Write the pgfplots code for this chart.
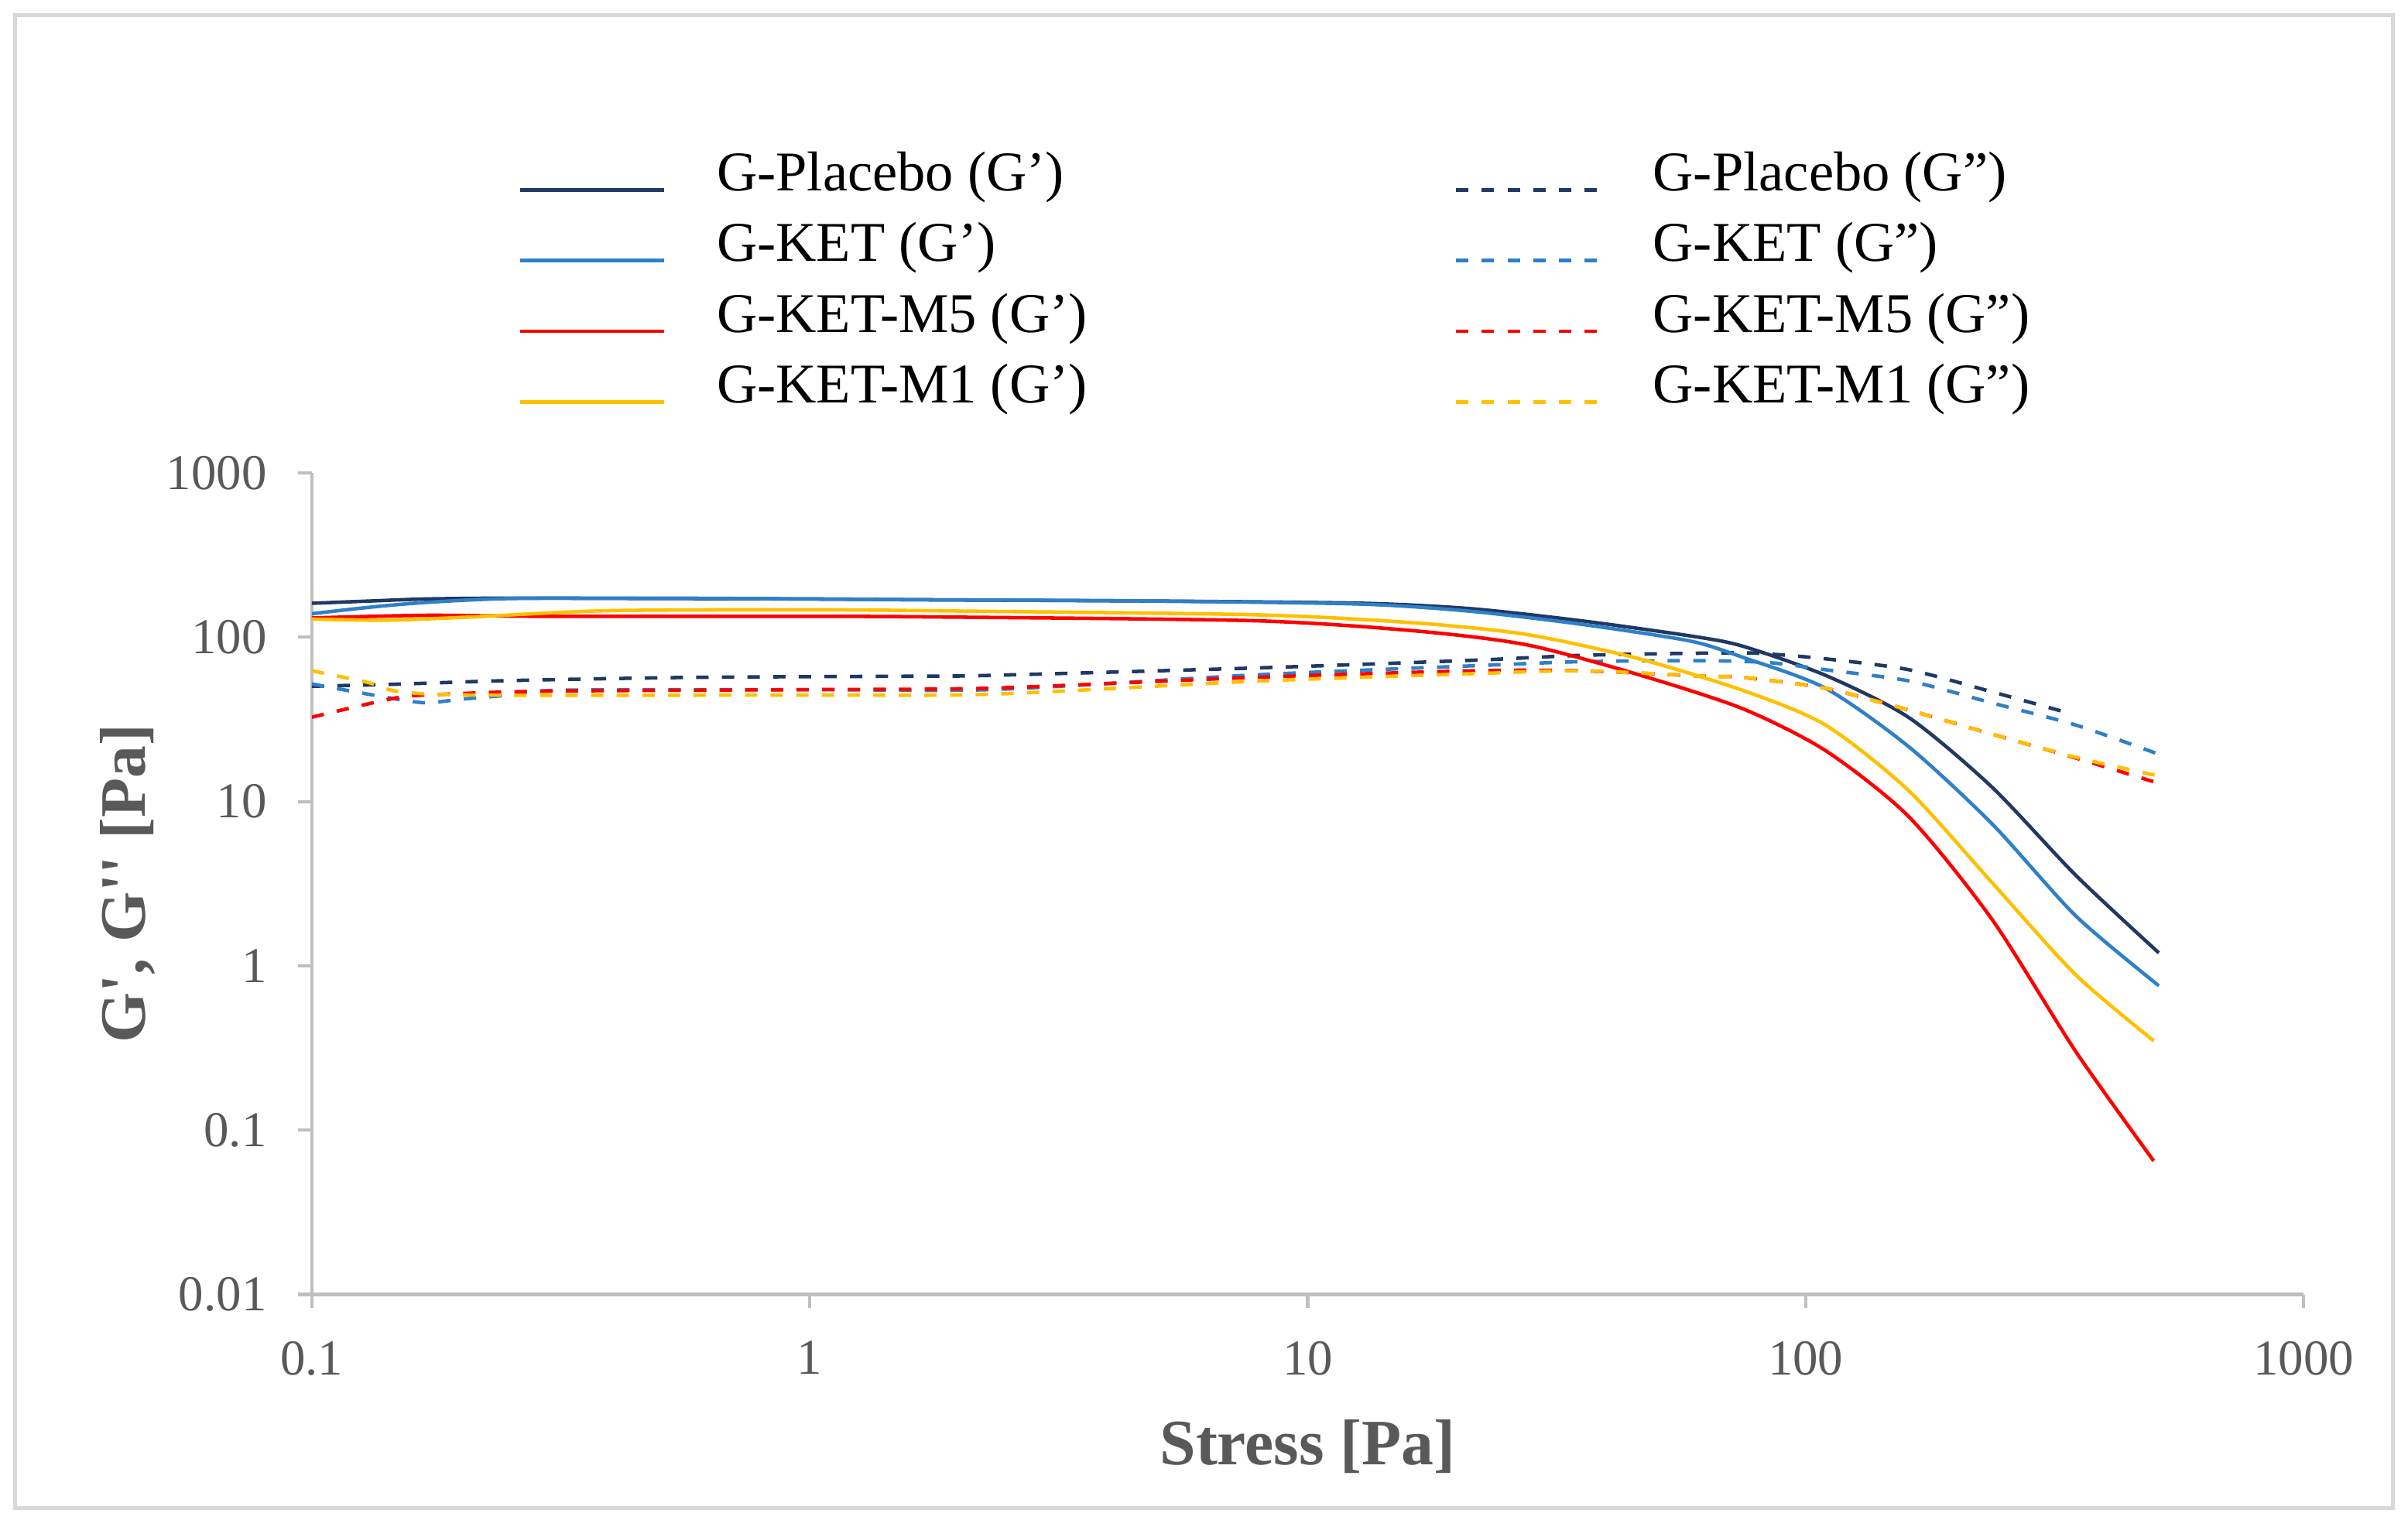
\documentclass[border=0pt]{standalone}
\usepackage{fontspec}
\setmainfont{Liberation Serif}
\usepackage{pgfplots}
\pgfplotsset{compat=1.18}
\definecolor{cnavy}{HTML}{203864}
\definecolor{cblue}{HTML}{2E80C8}
\definecolor{cred}{HTML}{FF0000}
\definecolor{cyel}{HTML}{FFC000}
\definecolor{tgray}{HTML}{595959}
\definecolor{agray}{HTML}{BFBFBF}
\definecolor{fgray}{HTML}{D9D9D9}

\begin{document}
\begin{tikzpicture}
\begin{loglogaxis}[
  at={(0,0)}, anchor=south west,
  scale only axis, width=12.97cm, height=5.35cm,
  xmin=0.1, xmax=1000, ymin=0.01, ymax=1000,
  axis x line*=bottom, axis y line*=left,
  axis line style={agray, line width=0.6pt},
  tick align=outside, major tick length=0.09cm,
  tick style={agray, line width=0.6pt},
  xminorticks=false, yminorticks=false,
  xtick={0.1,1,10,100,1000}, xticklabels={0.1,1,10,100,1000},
  ytick={0.01,0.1,1,10,100,1000}, yticklabels={0.01,0.1,1,10,100,1000},
  ticklabel style={font=\fontsize{9.3}{10}\selectfont, text=tgray},
  xticklabel style={yshift=-0.09cm},
  yticklabel style={xshift=-0.08cm},
  xlabel={Stress [Pa]},
  ylabel={G\textquotesingle, G\textquotesingle\textquotesingle{} [Pa]},
  label style={font=\bfseries\fontsize{12}{14}\selectfont, text=tgray},
  xlabel style={at={(axis description cs:0.5,-0.185)}, anchor=center},
  ylabel style={at={(axis description cs:-0.0925,0.5)}, anchor=center},
  legend image code/.code={\draw[#1] (0cm,-0.08cm) -- (0.94cm,-0.08cm);},
  legend style={draw=none, fill=none, at={(axis description cs:0.095,1.417)},
    anchor=north west, legend columns=2, row sep=0pt,
    font=\fontsize{10.4}{12}\selectfont,
    nodes={inner ysep=0pt, text height=9pt, text depth=4.1pt},
    /tikz/every odd column/.append style={column sep=0.26cm},
    /tikz/every even column/.append style={column sep=2.32cm}},
  legend cell align=left,
  every axis plot/.append style={line width=0.65pt, smooth, tension=0.45},
  gdash/.style={dash pattern=on 2.3pt off 2.45pt},
]
% G-Placebo (G')
\addplot[cnavy] coordinates {
(0.1,161) (0.13,166) (0.17,171) (0.25,173) (0.5,172) (1,171) (1.74,169) (5,166)
(12.9,161) (21.4,149) (35.4,126) (58.5,102) (74.5,88.5) (109.7,58.6) (161.3,32.4)
(237,12.2) (349,3.55) (512,1.2)};
\addlegendentry{G-Placebo (G’)}
% G-Placebo (G'')
\addplot[cnavy, gdash] coordinates {
(0.1,50.3) (0.148,51.8) (0.25,54.5) (0.587,57) (1.74,58) (2.31,58.6) (7.84,65)
(21.4,72.4) (35.4,77.6) (62,80) (79.4,80) (109.7,73.9) (161.3,63.4) (237,46.5) (327,35.5)};
\addlegendentry{G-Placebo (G”)}
% G-KET (G')
\addplot[cblue] coordinates {
(0.1,139) (0.13,152) (0.17,163) (0.25,172) (0.5,173) (1,171) (1.74,169) (5,166)
(12.9,159) (21.4,143.6) (35.4,120) (58.5,95) (74.5,75.8) (109.7,48.9) (161.3,21.5)
(237,7.3) (349,2.01) (512,0.757)};
\addlegendentry{G-KET (G’)}
% G-KET (G'')
\addplot[cblue, gdash] coordinates {
(0.1,52) (0.13,45) (0.167,40) (0.2,42) (0.25,44.5) (0.316,47.6) (1,48) (2.31,48)
(7.84,59) (21.4,67) (35.4,71) (62,72) (84.8,70) (109.7,63.4) (161.3,54.2) (237,39.8)
(349,29.2) (512,19.4)};
\addlegendentry{G-KET (G”)}
% G-KET-M5 (G')
\addplot[cred] coordinates {
(0.1,131) (0.17,136) (0.3,134) (1,134) (1.74,133) (7.84,126) (16.6,109) (27.5,90)
(45.5,60) (74.5,36.9) (109.7,20.4) (161.3,8.07) (237,1.91) (349,0.30) (500,0.065)};
\addlegendentry{G-KET-M5 (G’)}
% G-KET-M5 (G'')
\addplot[cred, gdash] coordinates {
(0.1,32.6) (0.148,42.8) (0.185,45) (0.3,47) (1,48) (2.31,49) (7.84,57) (21.4,62.5)
(35.4,62.5) (62,58) (74.5,57) (109.7,48.9) (161.3,36) (237,25.7) (349,18.4) (500,13.2)};
\addlegendentry{G-KET-M5 (G”)}
% G-KET-M1 (G')
\addplot[cyel] coordinates {
(0.1,129) (0.14,127) (0.2,132) (0.39,145) (1,147) (1.74,145) (7.84,137) (16.6,122)
(27.5,104) (45.5,75) (74.5,47.7) (109.7,29.2) (161.3,11.6) (237,3.2) (349,0.88) (500,0.35)};
\addlegendentry{G-KET-M1 (G’)}
% G-KET-M1 (G'')
\addplot[cyel, gdash] coordinates {
(0.1,62.5) (0.13,53) (0.148,47) (0.21,44.5) (1,44.5) (2.31,45) (7.84,54) (21.4,60)
(35.4,62.5) (62,58) (74.5,57) (109.7,48.9) (161.3,36) (237,25.7) (349,18.6) (512,14.3)};
\addlegendentry{G-KET-M1 (G”)}
\end{loglogaxis}
\draw[fgray, line width=0.7pt] (-1.93cm,-1.39cm) rectangle (13.55cm,8.33cm);
\pgfresetboundingbox
\path[use as bounding box] (-2.03cm,-1.51cm) rectangle (13.65cm,8.43cm);
\end{tikzpicture}
\end{document}
